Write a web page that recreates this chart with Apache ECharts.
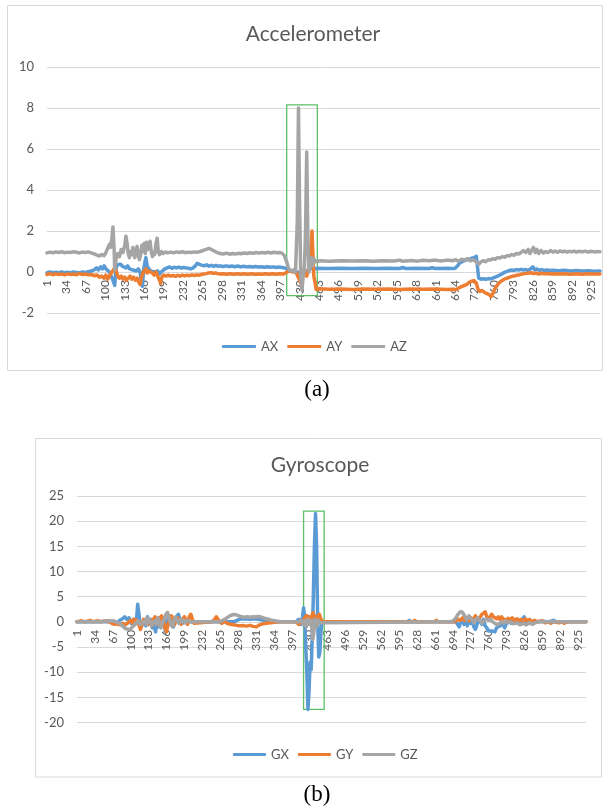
<!DOCTYPE html>
<html>
<head>
<meta charset="utf-8">
<script src="https://cdn.jsdelivr.net/npm/echarts@6/dist/echarts.min.js"></script>
<style>html,body{margin:0;padding:0;background:#fff;}#c{width:614px;height:810px;}</style>
</head>
<body>
<div id="c"></div>
<script>
// ---- categories (sample numbers 1..940) ----
const categories = Array.from({length: 940}, (_, i) => String(i + 1));
const accTicks = [-2, 0, 2, 4, 6, 8, 10];
const gyroTicks = [-20, -15, -10, -5, 0, 5, 10, 15, 20, 25];

// ---- Accelerometer series: [sample, value] ----
const AX = [[1,-0.03],[6,0.0],[11,-0.04],[16,-0.01],[21,-0.03],[26,0.0],[31,-0.04],[36,-0.01],[41,-0.03],[46,0.0],[51,-0.02],[56,-0.04],[61,0.0],[66,-0.02],[71,0.02],[76,0.05],[81,0.1],[85,0.2],[88,0.1],[92,0.25],[95,0.15],[98,0.3],[101,0.15],[104,0.1],[107,0.0],[110,-0.2],[113,-0.4],[116,-0.65],[118,0.1],[120,0.35],[123,0.3],[126,0.38],[129,0.28],[132,0.35],[135,0.2],[138,0.3],[141,0.15],[144,0.2],[147,0.1],[150,0.18],[153,0.05],[156,0.15],[159,0.0],[161,-0.4],[163,-0.7],[165,0.1],[167,0.45],[169,0.7],[171,0.3],[174,0.15],[177,0.05],[180,0.1],[183,0.0],[186,-0.05],[189,0.05],[192,-0.1],[195,0.0],[198,0.05],[201,0.15],[205,0.2],[209,0.25],[213,0.18],[217,0.23],[221,0.2],[225,0.24],[229,0.19],[233,0.22],[237,0.2],[241,0.18],[245,0.15],[249,0.2],[253,0.3],[256,0.42],[259,0.5],[262,0.35],[265,0.4],[268,0.3],[272,0.35],[276,0.28],[280,0.33],[284,0.27],[288,0.32],[292,0.28],[296,0.3],[300,0.26],[305,0.3],[310,0.27],[315,0.29],[320,0.26],[325,0.29],[330,0.25],[335,0.28],[340,0.25],[345,0.27],[350,0.24],[355,0.27],[360,0.24],[365,0.26],[370,0.23],[375,0.26],[380,0.23],[385,0.25],[390,0.22],[395,0.24],[400,0.22],[404,0.2],[408,0.15],[412,0.1],[416,0.05],[420,0.02],[424,-0.05],[428,0.0],[432,-0.1],[436,0.05],[440,-0.05],[444,0.1],[448,0.15],[452,0.2],[456,0.15],[460,0.18],[480,0.17],[500,0.18],[520,0.17],[540,0.18],[560,0.17],[580,0.18],[600,0.17],[605,0.22],[610,0.17],[630,0.18],[650,0.17],[655,0.21],[660,0.17],[680,0.18],[690,0.17],[694,0.18],[698,0.3],[702,0.45],[706,0.5],[710,0.55],[714,0.6],[718,0.62],[722,0.67],[726,0.7],[730,0.77],[732,0.75],[734,-0.3],[738,-0.35],[742,-0.33],[746,-0.36],[750,-0.32],[754,-0.34],[758,-0.3],[762,-0.25],[766,-0.2],[770,-0.15],[774,-0.08],[778,-0.02],[782,0.03],[786,0.07],[790,0.1],[794,0.08],[798,0.12],[802,0.1],[806,0.13],[810,0.1],[814,0.12],[818,0.08],[822,0.15],[826,0.25],[829,0.1],[833,0.15],[837,0.08],[841,0.12],[845,0.08],[850,0.1],[855,0.07],[860,0.09],[870,0.06],[880,0.08],[890,0.05],[900,0.07],[910,0.05],[920,0.06],[930,0.04],[940,0.05]];

const AY = [[1,-0.12],[6,-0.08],[11,-0.13],[16,-0.09],[21,-0.12],[26,-0.1],[31,-0.14],[36,-0.09],[41,-0.12],[46,-0.1],[51,-0.13],[56,-0.08],[61,-0.12],[66,-0.1],[71,-0.14],[76,-0.12],[81,-0.18],[86,-0.15],[90,-0.25],[94,-0.2],[98,-0.3],[101,-0.15],[104,-0.35],[107,-0.2],[110,-0.05],[113,0.0],[116,0.2],[118,0.1],[121,-0.2],[124,-0.3],[127,-0.2],[130,-0.35],[133,-0.25],[136,-0.4],[139,-0.3],[142,-0.2],[145,-0.35],[148,-0.25],[151,-0.4],[154,-0.3],[157,-0.5],[159,-0.6],[161,-0.3],[163,-0.1],[166,0.05],[169,0.15],[171,-0.05],[174,0.05],[177,0.1],[180,-0.05],[183,-0.15],[186,0.0],[189,-0.2],[192,-0.4],[194,-0.55],[196,-0.25],[199,-0.15],[203,-0.2],[207,-0.15],[211,-0.2],[215,-0.17],[219,-0.21],[223,-0.16],[227,-0.2],[231,-0.15],[235,-0.19],[239,-0.15],[243,-0.18],[247,-0.14],[251,-0.17],[255,-0.14],[259,-0.16],[263,-0.12],[267,-0.1],[271,-0.08],[275,-0.05],[279,-0.03],[283,-0.06],[287,-0.05],[291,-0.08],[295,-0.1],[300,-0.09],[306,-0.11],[312,-0.09],[318,-0.11],[324,-0.09],[330,-0.11],[336,-0.09],[342,-0.11],[348,-0.09],[354,-0.11],[360,-0.1],[366,-0.11],[372,-0.09],[378,-0.11],[384,-0.09],[390,-0.11],[396,-0.09],[402,-0.1],[406,-0.05],[410,0.02],[414,0.05],[418,0.0],[422,0.1],[426,-0.15],[430,-0.4],[433,-0.6],[436,0.1],[439,0.0],[442,-0.2],[445,0.1],[448,0.5],[450,1.5],[451,2.0],[452,1.2],[454,-0.2],[456,-0.5],[458,-0.85],[462,-0.82],[480,-0.84],[500,-0.83],[520,-0.85],[540,-0.83],[560,-0.84],[580,-0.83],[600,-0.85],[620,-0.83],[640,-0.84],[660,-0.83],[680,-0.85],[690,-0.84],[694,-0.87],[698,-0.82],[702,-0.75],[706,-0.7],[710,-0.65],[714,-0.6],[718,-0.5],[722,-0.45],[726,-0.42],[730,-0.55],[733,-0.85],[736,-0.95],[740,-0.9],[744,-1.0],[748,-1.05],[752,-1.1],[755,-1.2],[758,-1.05],[761,-0.85],[764,-0.7],[768,-0.55],[772,-0.45],[776,-0.38],[780,-0.32],[784,-0.28],[788,-0.24],[792,-0.2],[796,-0.18],[800,-0.15],[804,-0.13],[808,-0.1],[812,-0.08],[816,-0.06],[820,-0.05],[824,-0.04],[828,-0.08],[832,-0.05],[836,-0.1],[840,-0.06],[846,-0.09],[852,-0.07],[858,-0.1],[864,-0.08],[870,-0.1],[880,-0.09],[890,-0.11],[900,-0.09],[910,-0.11],[920,-0.09],[930,-0.1],[940,-0.1]];

const AZ = [[1,0.93],[6,0.97],[11,0.94],[16,0.98],[21,0.95],[26,0.99],[31,0.94],[36,0.97],[41,0.95],[46,0.99],[51,0.96],[56,0.93],[61,0.97],[66,0.95],[71,0.98],[76,0.93],[81,0.88],[86,0.82],[90,0.78],[94,0.85],[98,0.8],[101,0.95],[104,1.15],[107,1.35],[109,1.2],[111,1.6],[113,2.2],[115,1.1],[116,0.1],[118,0.6],[121,0.9],[124,0.75],[127,1.1],[130,0.95],[133,1.3],[135,1.75],[137,1.4],[139,0.9],[141,0.7],[143,1.0],[145,0.85],[147,1.2],[150,0.7],[152,0.95],[154,1.25],[156,0.8],[158,0.6],[160,0.85],[162,1.3],[164,1.0],[166,1.4],[168,0.9],[170,1.45],[172,1.1],[174,1.35],[176,1.5],[178,1.0],[180,0.75],[182,0.95],[184,0.85],[186,1.4],[188,1.65],[190,1.0],[192,0.85],[195,1.0],[198,0.9],[202,0.98],[206,0.93],[211,0.97],[216,0.94],[221,0.98],[226,0.95],[231,0.99],[236,0.94],[241,0.97],[246,0.95],[251,0.98],[256,0.96],[261,1.0],[266,1.05],[271,1.1],[276,1.15],[280,1.1],[285,1.02],[290,0.95],[295,0.9],[300,0.88],[306,0.92],[311,0.87],[316,0.9],[321,0.88],[326,0.91],[331,0.89],[336,0.93],[341,0.9],[346,0.94],[351,0.91],[356,0.95],[361,0.92],[366,0.95],[371,0.93],[376,0.96],[381,0.93],[386,0.96],[391,0.94],[396,0.95],[400,0.92],[404,0.8],[408,0.5],[411,0.2],[414,0.05],[417,0.02],[420,0.1],[423,0.0],[426,2.5],[428,8.0],[430,3.0],[432,-0.3],[434,-0.9],[436,-0.2],[438,0.1],[440,2.0],[442,5.85],[444,1.5],[446,0.0],[448,0.3],[450,0.7],[452,0.3],[454,0.65],[457,0.5],[460,0.58],[465,0.55],[480,0.53],[500,0.55],[520,0.54],[540,0.55],[555,0.53],[570,0.55],[590,0.54],[600,0.58],[605,0.52],[620,0.56],[630,0.53],[640,0.57],[650,0.55],[660,0.58],[670,0.54],[680,0.58],[690,0.55],[695,0.6],[700,0.52],[705,0.62],[710,0.58],[715,0.65],[720,0.55],[725,0.6],[730,0.5],[734,0.38],[738,0.5],[742,0.55],[746,0.5],[750,0.6],[754,0.58],[758,0.65],[762,0.62],[766,0.7],[770,0.68],[774,0.75],[778,0.72],[782,0.8],[786,0.78],[790,0.85],[794,0.82],[798,0.9],[802,0.88],[806,0.95],[810,1.05],[814,0.95],[818,1.1],[821,0.9],[824,1.05],[827,1.2],[830,0.95],[833,1.1],[836,0.9],[840,1.05],[844,0.92],[848,1.0],[852,0.95],[856,1.05],[860,0.97],[864,1.02],[868,0.96],[872,1.03],[876,0.98],[880,1.02],[884,0.97],[888,1.01],[892,0.98],[896,1.02],[900,0.97],[905,1.01],[910,0.98],[915,1.02],[920,0.97],[925,1.01],[930,0.98],[935,1.0],[940,0.99]];

// ---- Gyroscope series: [sample, value] ----
const GX = [[1,0],[60,0],[70,0.1],[75,-0.2],[80,0.3],[85,0.6],[89,1.0],[93,0.5],[97,0.8],[101,-0.3],[105,0.5],[108,-0.5],[111,0.8],[113,3.5],[115,3.8],[117,0.0],[119,-1.0],[122,-0.5],[125,0.3],[128,-0.8],[131,1.0],[134,-0.5],[137,0.5],[140,-1.2],[143,-0.5],[146,-2.0],[149,0.3],[152,-1.0],[155,0.5],[158,-0.5],[161,0.8],[164,-2.0],[167,-0.3],[170,1.0],[173,-0.5],[176,0.5],[179,-1.0],[182,0.3],[185,1.0],[188,1.5],[191,0.5],[194,0.8],[197,-0.2],[200,0.3],[205,0.0],[290,0],[300,0.5],[310,0.6],[320,0.5],[330,0.6],[340,0.4],[350,0.2],[360,0],[405,0],[410,0.5],[414,-0.5],[417,1.0],[419,2.8],[421,1.0],[423,-5.0],[425,-10],[427,-17.4],[429,-14],[431,-8.0],[433,-9.5],[435,-3.0],[437,5.0],[439,15.0],[441,21.5],[443,15],[445,0.0],[447,-7.0],[449,-6.0],[451,-2.0],[453,0.0],[610,0],[614,0.3],[618,0],[700,0],[703,-0.5],[706,-1.0],[709,0.0],[712,0.5],[715,-0.5],[718,0.3],[721,-0.8],[724,0.5],[727,-0.3],[730,0.2],[733,-1.0],[736,-1.5],[739,-0.5],[742,0.5],[745,0.0],[748,-0.5],[751,0.5],[754,-0.8],[757,-1.2],[760,-1.8],[763,-2.0],[766,-1.8],[769,-1.5],[772,-2.0],[775,-1.2],[778,-1.5],[781,-0.8],[784,-1.0],[787,-0.5],[790,-1.2],[793,-0.3],[796,-0.6],[799,0.2],[802,-0.3],[806,0.3],[810,-0.2],[815,0.5],[820,-0.3],[823,0.5],[826,1.0],[829,0.0],[833,0.3],[838,-0.3],[843,0.2],[850,0],[860,0.1],[870,0],[880,0.3],[885,0],[940,0]];

const GY = [[1,0],[10,0.2],[15,0],[25,0.3],[30,0],[40,0.2],[45,0],[55,0.2],[60,0],[65,-0.3],[70,-0.5],[75,-0.4],[80,-0.6],[85,-0.3],[90,-0.6],[95,-0.2],[100,0.3],[103,-0.2],[106,0.5],[109,0.8],[112,0.3],[115,-0.5],[118,-1.5],[121,-0.5],[124,0.5],[127,0.8],[130,0.2],[133,-0.5],[136,0.3],[139,-0.8],[142,0.5],[145,1.0],[148,0.3],[151,-0.5],[154,0.8],[157,1.2],[160,0.2],[163,-1.0],[166,-2.0],[169,-0.5],[172,0.5],[175,1.2],[178,0.5],[181,-0.5],[184,0.3],[187,0.8],[190,0.0],[193,-0.5],[196,0.5],[199,1.0],[202,0.3],[205,-0.5],[208,1.0],[211,1.5],[214,0.5],[217,-0.3],[220,0],[250,0],[255,0.5],[258,1.0],[261,0.5],[264,0.0],[268,-0.3],[272,0.2],[278,-0.3],[284,-0.5],[290,-0.6],[296,-0.7],[302,-0.8],[308,-0.75],[314,-0.85],[320,-0.7],[326,-0.9],[332,-1.0],[338,-0.6],[344,-0.4],[350,-0.3],[358,-0.2],[366,-0.1],[375,0],[405,0],[410,-0.5],[414,0.3],[418,-0.3],[421,0.8],[424,1.2],[427,1.5],[430,1.0],[433,0.5],[436,1.8],[439,1.2],[442,0.5],[445,1.0],[448,1.5],[451,0.5],[455,0],[620,0],[624,0.3],[628,0],[660,0],[664,0.3],[668,0],[695,0],[700,0.2],[704,0.5],[708,0.3],[712,0.8],[716,0.3],[720,0.6],[724,0.2],[728,0.8],[732,0.3],[736,1.2],[740,0.5],[744,0.8],[748,1.5],[751,1.2],[754,2.0],[757,1.0],[760,0.5],[763,0.8],[766,1.5],[769,1.0],[772,1.2],[775,0.6],[778,1.0],[781,0.5],[784,1.0],[787,0.6],[790,0.9],[793,0.3],[796,0.7],[800,0.4],[804,0.8],[808,0.3],[812,0.6],[816,0.2],[820,0.5],[824,0.0],[828,0.6],[832,0.2],[836,0.5],[840,-0.2],[845,0.3],[850,0],[860,0.2],[865,-0.2],[870,0],[875,-0.3],[880,0],[890,-0.2],[895,0],[900,-0.3],[905,0],[940,0]];

const GZ = [[1,0],[40,0],[50,0.1],[60,0.2],[70,0.1],[80,-0.3],[85,-0.8],[90,-1.3],[95,-1.5],[100,-1.4],[105,-0.8],[110,-0.3],[114,0.2],[117,-0.5],[120,-0.8],[123,-0.3],[126,0.3],[129,-0.5],[132,0.8],[135,0.3],[138,-0.7],[141,-1.0],[144,0.2],[147,-0.5],[150,0.8],[153,-0.3],[156,-1.2],[159,0.0],[162,0.5],[165,1.5],[168,1.9],[171,0.8],[174,-0.5],[177,-1.0],[180,0.3],[183,1.0],[186,0.2],[189,-0.3],[192,0.5],[195,0.0],[198,0.4],[201,-0.2],[205,0.3],[210,0],[265,0],[270,0.3],[275,0.6],[280,1.0],[285,1.3],[290,1.45],[295,1.4],[300,1.2],[305,1.0],[310,0.9],[315,1.0],[320,0.9],[325,1.0],[330,0.95],[335,1.05],[340,1.0],[345,0.8],[350,0.6],[355,0.5],[360,0.3],[368,0.15],[375,0],[410,0],[415,0.3],[418,-0.5],[421,0.2],[424,-1.0],[427,0.5],[430,-0.5],[433,0.3],[436,-3.5],[438,-2.0],[440,0.5],[443,-1.0],[446,0.3],[449,-0.2],[452,0],[690,0],[695,0.2],[700,0.8],[704,1.5],[708,2.0],[712,1.9],[716,1.2],[720,0.4],[724,1.2],[727,1.0],[730,0.3],[733,-0.2],[736,0.4],[740,0.8],[744,0.3],[748,-0.3],[752,0.2],[756,0.6],[760,0.3],[764,0.5],[768,0.0],[772,-0.3],[776,-0.6],[780,-0.4],[784,0.0],[788,-0.3],[792,0.2],[796,-0.2],[800,0.0],[806,-0.4],[812,-0.2],[818,-0.6],[824,-0.3],[830,-0.6],[836,-0.2],[842,-0.5],[848,-0.1],[854,0.0],[940,0]];

// highlighted windows (sample numbers / values)
const accBox = {x0: '408', x1: '460', y0: 8.15, y1: -1.15};
const gyroBox = {x0: '419', x1: '457', y0: 22, y1: -17.4};

const COLORS = {x: '#5B9BD5', y: '#ED7D31', z: '#A5A5A5'};
const TXT = '#595959';
const GRIDC = '#d9d9d9';
const FONT = 'Lato, "Open Sans", sans-serif';

const grids = [
  {left: 47, top: 67, width: 553, height: 246},
  {left: 77, top: 496, width: 509, height: 226.5}
];

function toIdx(arr) { return arr.map(p => [p[0] - 1, p[1]]); }

function lineSeries(name, data, color, axisIdx, box) {
  const s = {
    name: name, type: 'line', xAxisIndex: axisIdx, yAxisIndex: axisIdx,
    data: toIdx(data), showSymbol: false, symbol: 'none', animation: false,
    lineStyle: {color: color, width: 3.5, cap: 'round', join: 'round'},
    itemStyle: {color: color}
  };
  if (box) {
    s.markArea = {
      silent: true,
      itemStyle: {color: 'rgba(0,0,0,0)', borderColor: '#5cbf68', borderWidth: 1.3},
      data: [[{xAxis: box.x0, yAxis: box.y0}, {xAxis: box.x1, yAxis: box.y1}]]
    };
  }
  return s;
}

// x axis sits on the zero line (as in the reference): shift it up from the grid bottom
function xAxisDef(gi, ticks) {
  const lo = ticks[0], hi = ticks[ticks.length - 1];
  const shift = grids[gi].height * (0 - lo) / (hi - lo);
  return {
    type: 'category', gridIndex: gi, data: categories, boundaryGap: false,
    position: 'bottom', offset: -shift,
    axisLine: {show: true, onZero: false, lineStyle: {color: GRIDC, width: 1}},
    axisTick: {show: false},
    axisLabel: {interval: 32, rotate: 90, fontSize: 12, color: TXT, fontFamily: FONT, margin: 8},
    splitLine: {show: false}
  };
}
function yAxisDef(gi, ticks) {
  return {
    type: 'value', gridIndex: gi, min: ticks[0], max: ticks[ticks.length - 1],
    interval: ticks[1] - ticks[0],
    axisLine: {show: false}, axisTick: {show: false},
    axisLabel: {fontSize: 13, color: TXT, fontFamily: FONT, margin: 13},
    splitLine: {lineStyle: {color: GRIDC, width: 1}}
  };
}

const chart = echarts.init(document.getElementById('c'), null, {renderer: 'canvas'});
chart.setOption({
  animation: false,
  backgroundColor: '#ffffff',
  grid: grids,
  xAxis: [xAxisDef(0, accTicks), xAxisDef(1, gyroTicks)],
  yAxis: [yAxisDef(0, accTicks), yAxisDef(1, gyroTicks)],
  legend: [
    {data: ['AX', 'AY', 'AZ'], left: 222, top: 340, padding: 0, icon: 'roundRect',
     itemWidth: 34, itemHeight: 3, itemGap: 9,
     textStyle: {fontSize: 13, color: TXT, fontFamily: FONT}},
    {data: ['GX', 'GY', 'GZ'], left: 233, top: 748, padding: 0, icon: 'roundRect',
     itemWidth: 33, itemHeight: 3, itemGap: 9,
     textStyle: {fontSize: 13, color: TXT, fontFamily: FONT}}
  ],
  series: [
    lineSeries('AX', AX, COLORS.x, 0),
    lineSeries('AY', AY, COLORS.y, 0),
    lineSeries('AZ', AZ, COLORS.z, 0, accBox),
    lineSeries('GX', GX, COLORS.x, 1),
    lineSeries('GY', GY, COLORS.y, 1),
    lineSeries('GZ', GZ, COLORS.z, 1, gyroBox)
  ],
  graphic: [
    {type: 'rect', shape: {x: 7.5, y: 5.5, width: 595, height: 365}, style: {fill: 'none', stroke: GRIDC, lineWidth: 1}, silent: true, z: -1},
    {type: 'rect', shape: {x: 35.5, y: 438.5, width: 566, height: 338.5}, style: {fill: 'none', stroke: GRIDC, lineWidth: 1}, silent: true, z: -1},
    {type: 'text', x: 313, y: 34, style: {text: 'Accelerometer', fill: TXT, font: '21px ' + FONT, textAlign: 'center', textVerticalAlign: 'middle'}},
    {type: 'text', x: 320, y: 465, style: {text: 'Gyroscope', fill: TXT, font: '21px ' + FONT, textAlign: 'center', textVerticalAlign: 'middle'}},
    {type: 'text', x: 317, y: 390, style: {text: '(a)', fill: '#000', font: '23px "Liberation Serif", "Times New Roman", serif', textAlign: 'center', textVerticalAlign: 'middle'}},
    {type: 'text', x: 317, y: 795, style: {text: '(b)', fill: '#000', font: '23px "Liberation Serif", "Times New Roman", serif', textAlign: 'center', textVerticalAlign: 'middle'}}
  ]
});
</script>
</body>
</html>
